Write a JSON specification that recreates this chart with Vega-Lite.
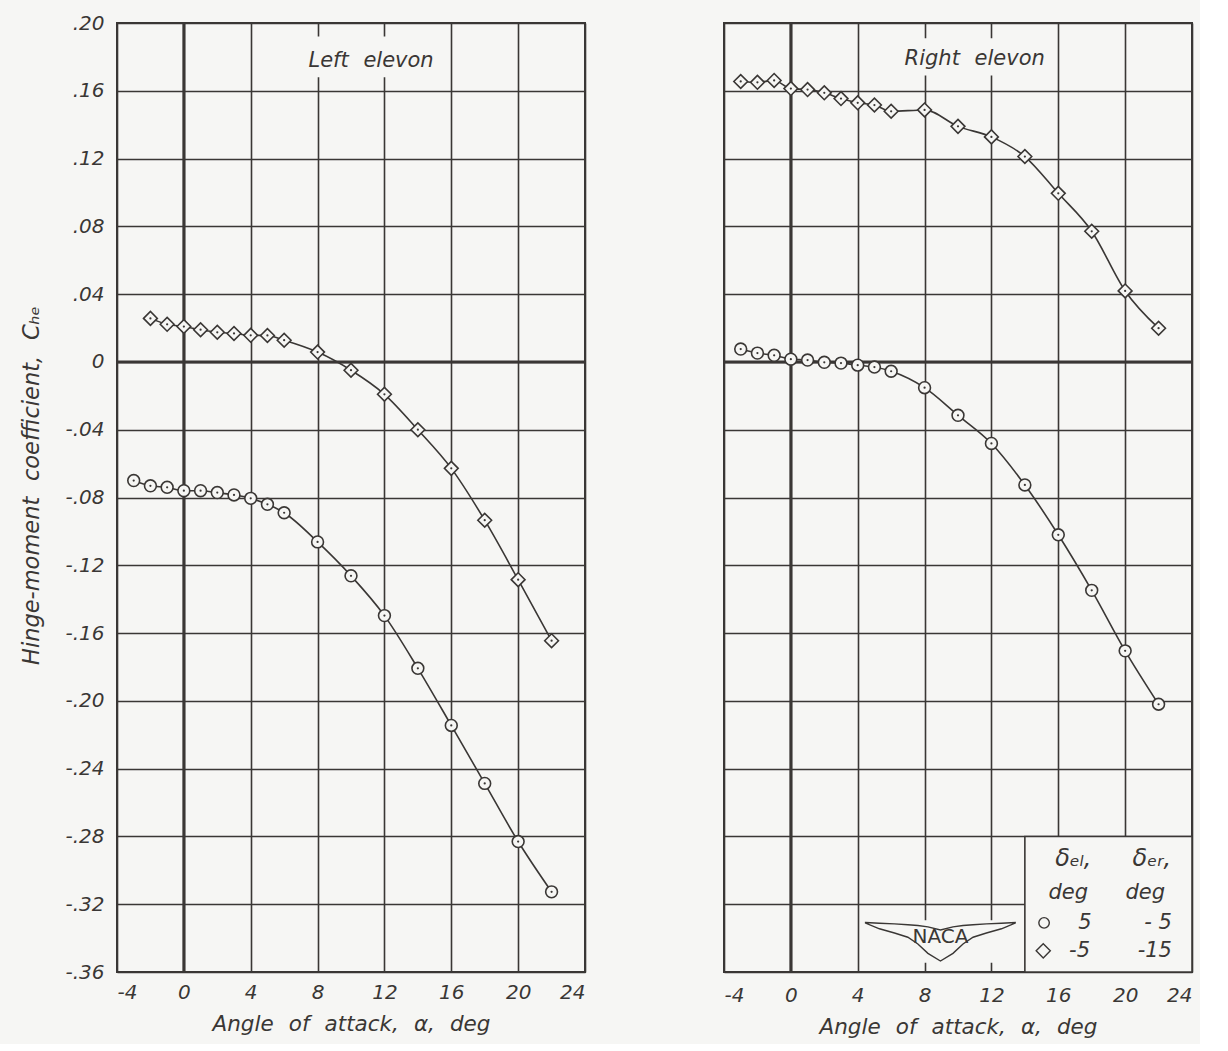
{
  "$schema": "https://vega.github.io/schema/vega-lite/v6.json",
  "background": "#f6f6f4",
  "padding": {"left": 19, "top": 12, "right": 5, "bottom": 5},
  "spacing": 139,
  "bounds": "flush",
  "config": {
    "view": {"stroke": "#3a3735", "strokeWidth": 2},
    "axis": {
      "grid": true, "gridColor": "#3a3735", "gridWidth": 1.6, "gridOpacity": 1,
      "domain": false, "ticks": false,
      "labelFont": "DejaVu Sans", "labelFontStyle": "italic", "labelFontSize": 20, "labelColor": "#3a3735",
      "titleFont": "DejaVu Sans", "titleFontStyle": "italic", "titleFontWeight": "normal", "titleFontSize": 21.5, "titleColor": "#3a3735"
    },
    "text": {"font": "DejaVu Sans", "fontStyle": "italic", "fill": "#3a3735", "fontWeight": "normal"}
  },
  "datasets": {
    "one": [{"k": 1}],
    "left": [
      {"alpha": -3, "che": -0.0700, "series": "A"},
      {"alpha": -2, "che": -0.0731, "series": "A"},
      {"alpha": -1, "che": -0.0740, "series": "A"},
      {"alpha": 0, "che": -0.0760, "series": "A"},
      {"alpha": 1, "che": -0.0760, "series": "A"},
      {"alpha": 2, "che": -0.0771, "series": "A"},
      {"alpha": 3, "che": -0.0785, "series": "A"},
      {"alpha": 4, "che": -0.0805, "series": "A"},
      {"alpha": 5, "che": -0.0840, "series": "A"},
      {"alpha": 6, "che": -0.0890, "series": "A"},
      {"alpha": 8, "che": -0.1062, "series": "A"},
      {"alpha": 10, "che": -0.1262, "series": "A"},
      {"alpha": 12, "che": -0.1497, "series": "A"},
      {"alpha": 14, "che": -0.1808, "series": "A"},
      {"alpha": 16, "che": -0.2145, "series": "A"},
      {"alpha": 18, "che": -0.2487, "series": "A"},
      {"alpha": 20, "che": -0.2830, "series": "A"},
      {"alpha": 22, "che": -0.3127, "series": "A"},
      {"alpha": -2, "che": 0.0257, "series": "B"},
      {"alpha": -1, "che": 0.0222, "series": "B"},
      {"alpha": 0, "che": 0.0209, "series": "B"},
      {"alpha": 1, "che": 0.0190, "series": "B"},
      {"alpha": 2, "che": 0.0175, "series": "B"},
      {"alpha": 3, "che": 0.0168, "series": "B"},
      {"alpha": 4, "che": 0.0157, "series": "B"},
      {"alpha": 5, "che": 0.0156, "series": "B"},
      {"alpha": 6, "che": 0.0128, "series": "B"},
      {"alpha": 8, "che": 0.0058, "series": "B"},
      {"alpha": 10, "che": -0.0049, "series": "B"},
      {"alpha": 12, "che": -0.0191, "series": "B"},
      {"alpha": 14, "che": -0.0400, "series": "B"},
      {"alpha": 16, "che": -0.0628, "series": "B"},
      {"alpha": 18, "che": -0.0934, "series": "B"},
      {"alpha": 20, "che": -0.1285, "series": "B"},
      {"alpha": 22, "che": -0.1645, "series": "B"}
    ],
    "right": [
      {"alpha": -3, "che": 0.0076, "series": "A"},
      {"alpha": -2, "che": 0.0052, "series": "A"},
      {"alpha": -1, "che": 0.0039, "series": "A"},
      {"alpha": 0, "che": 0.0016, "series": "A"},
      {"alpha": 1, "che": 0.0011, "series": "A"},
      {"alpha": 2, "che": -0.0002, "series": "A"},
      {"alpha": 3, "che": -0.0007, "series": "A"},
      {"alpha": 4, "che": -0.0019, "series": "A"},
      {"alpha": 5, "che": -0.0030, "series": "A"},
      {"alpha": 6, "che": -0.0055, "series": "A"},
      {"alpha": 8, "che": -0.0152, "series": "A"},
      {"alpha": 10, "che": -0.0315, "series": "A"},
      {"alpha": 12, "che": -0.0481, "series": "A"},
      {"alpha": 14, "che": -0.0726, "series": "A"},
      {"alpha": 16, "che": -0.1020, "series": "A"},
      {"alpha": 18, "che": -0.1348, "series": "A"},
      {"alpha": 20, "che": -0.1705, "series": "A"},
      {"alpha": 22, "che": -0.2020, "series": "A"},
      {"alpha": -3, "che": 0.1655, "series": "B"},
      {"alpha": -2, "che": 0.1650, "series": "B"},
      {"alpha": -1, "che": 0.1661, "series": "B"},
      {"alpha": 0, "che": 0.1613, "series": "B"},
      {"alpha": 1, "che": 0.1607, "series": "B"},
      {"alpha": 2, "che": 0.1588, "series": "B"},
      {"alpha": 3, "che": 0.1554, "series": "B"},
      {"alpha": 4, "che": 0.1529, "series": "B"},
      {"alpha": 5, "che": 0.1516, "series": "B"},
      {"alpha": 6, "che": 0.1479, "series": "B"},
      {"alpha": 8, "che": 0.1487, "series": "B"},
      {"alpha": 10, "che": 0.1390, "series": "B"},
      {"alpha": 12, "che": 0.1328, "series": "B"},
      {"alpha": 14, "che": 0.1212, "series": "B"},
      {"alpha": 16, "che": 0.0995, "series": "B"},
      {"alpha": 18, "che": 0.0771, "series": "B"},
      {"alpha": 20, "che": 0.0419, "series": "B"},
      {"alpha": 22, "che": 0.0199, "series": "B"}
    ],
    "logo": [
      {"alpha": 4.47, "top": -0.3308, "bottom": -0.3311},
      {"alpha": 5.3, "top": -0.3312, "bottom": -0.3345},
      {"alpha": 6.2, "top": -0.3316, "bottom": -0.3370},
      {"alpha": 7.0, "top": -0.3321, "bottom": -0.3395},
      {"alpha": 7.6, "top": -0.3326, "bottom": -0.3435},
      {"alpha": 8.2, "top": -0.3334, "bottom": -0.3490},
      {"alpha": 8.95, "top": -0.3352, "bottom": -0.3535},
      {"alpha": 9.7, "top": -0.3334, "bottom": -0.3490},
      {"alpha": 10.3, "top": -0.3326, "bottom": -0.3435},
      {"alpha": 10.9, "top": -0.3321, "bottom": -0.3395},
      {"alpha": 11.7, "top": -0.3316, "bottom": -0.3370},
      {"alpha": 12.6, "top": -0.3312, "bottom": -0.3345},
      {"alpha": 13.42, "top": -0.3308, "bottom": -0.3311}
    ]
  },
  "hconcat": [
    {
      "width": 468, "height": 949,
      "layer": [
        {"data": {"name": "one"}, "mark": {"type": "rule", "color": "#3a3735", "strokeWidth": 3},
          "encoding": {"x": {"datum": 0, "type": "quantitative", "scale": {"domain": [-4, 24], "nice": false, "zero": false}}}},
        {"data": {"name": "one"}, "mark": {"type": "rule", "color": "#3a3735", "strokeWidth": 3},
          "encoding": {"y": {"datum": 0, "type": "quantitative"}}},
        {"data": {"name": "one"}, "mark": {"type": "rect", "fill": "#f6f6f4"},
          "encoding": {"x": {"datum": 6.5}, "x2": {"datum": 15.85}, "y": {"datum": 0.192}, "y2": {"datum": 0.168}}},
        {"data": {"name": "one"}, "mark": {"type": "text", "text": "Left\u2002\u2009elevon", "fontSize": 21},
          "encoding": {"x": {"datum": 11.2}, "y": {"datum": 0.1777}}},
        {"data": {"name": "left"},
          "mark": {"type": "line", "interpolate": "monotone", "color": "#3a3735", "strokeWidth": 1.6},
          "encoding": {
            "x": {"field": "alpha", "type": "quantitative",
              "scale": {"domain": [-4, 24], "nice": false, "zero": false},
              "axis": {"values": [-4,-2,0,2,4,6,8,10,12,14,16,18,20,22,24],
                "labelExpr": "datum.value % 4 == 0 ? replace(datum.label, '−', '-') : ''",
                "labelPadding": 10, "titlePadding": 11, "title": "Angle\u2002\u2009of\u2002\u2009attack,\u2002\u2009α,\u2002\u2009deg"}},
            "y": {"field": "che", "type": "quantitative",
              "scale": {"domain": [-0.36, 0.2], "nice": false, "zero": false},
              "axis": {"values": [-0.36,-0.34,-0.32,-0.3,-0.28,-0.26,-0.24,-0.22,-0.2,-0.18,-0.16,-0.14,-0.12,-0.1,-0.08,-0.06,-0.04,-0.02,0,0.02,0.04,0.06,0.08,0.1,0.12,0.14,0.16,0.18,0.2],
                "labelExpr": "abs(round(datum.value*100)) % 4 == 0 ? (abs(datum.value) < 0.001 ? '0' : replace(replace(format(datum.value, '.2f'), '0.', '.'), '−', '-')) : ''",
                "labelPadding": 13, "titlePadding": 21, "titleFontSize": 22.5, "titleY": 462,
                "title": "Hinge-moment\u2002\u2009coefficient,\u2002\u2009Cₕₑ"}},
            "detail": {"field": "series"}}},
        {"data": {"name": "left"},
          "mark": {"type": "point", "filled": false, "fill": "#f6f6f4", "fillOpacity": 1, "stroke": "#3a3735", "strokeWidth": 1.6, "opacity": 1},
          "encoding": {
            "x": {"field": "alpha", "type": "quantitative"},
            "y": {"field": "che", "type": "quantitative"},
            "shape": {"field": "series", "type": "nominal", "scale": {"domain": ["A", "B"], "range": ["circle", "diamond"]}, "legend": null},
            "size": {"field": "series", "type": "nominal", "scale": {"domain": ["A", "B"], "range": [140, 190]}, "legend": null}}},
        {"data": {"name": "left"},
          "mark": {"type": "point", "filled": true, "color": "#3a3735", "size": 5, "opacity": 1},
          "encoding": {"x": {"field": "alpha", "type": "quantitative"}, "y": {"field": "che", "type": "quantitative"}}}
      ]
    },
    {
      "width": 468, "height": 949,
      "layer": [
        {"data": {"name": "one"}, "mark": {"type": "rule", "color": "#3a3735", "strokeWidth": 3},
          "encoding": {"x": {"datum": 0, "type": "quantitative", "scale": {"domain": [-4, 24], "nice": false, "zero": false}}}},
        {"data": {"name": "one"}, "mark": {"type": "rule", "color": "#3a3735", "strokeWidth": 3},
          "encoding": {"y": {"datum": 0, "type": "quantitative"}}},
        {"data": {"name": "one"}, "mark": {"type": "rect", "fill": "#f6f6f4"},
          "encoding": {"x": {"datum": 6.2}, "x2": {"datum": 15.8}, "y": {"datum": 0.191}, "y2": {"datum": 0.169}}},
        {"data": {"name": "one"}, "mark": {"type": "text", "text": "Right\u2002\u2009elevon", "fontSize": 21},
          "encoding": {"x": {"datum": 11.0}, "y": {"datum": 0.179}}},
        {"data": {"name": "one"}, "mark": {"type": "rect", "fill": "#f6f6f4"},
          "encoding": {"x": {"datum": 4.5}, "x2": {"datum": 13.4}, "y": {"datum": -0.3295}, "y2": {"datum": -0.3545}}},
        {"data": {"name": "logo"},
          "mark": {"type": "area", "fill": "#f6f6f4", "stroke": "#3a3735", "strokeWidth": 1.4},
          "encoding": {"x": {"field": "alpha", "type": "quantitative"}, "y": {"field": "top", "type": "quantitative"}, "y2": {"field": "bottom"}}},
        {"data": {"name": "one"}, "mark": {"type": "text", "text": "NACA", "fontSize": 20, "fontStyle": "normal"},
          "encoding": {"x": {"datum": 8.95}, "y": {"datum": -0.3395}}},
        {"data": {"name": "one"}, "mark": {"type": "rect", "fill": "#f6f6f4", "stroke": "#3a3735", "strokeWidth": 1.6},
          "encoding": {"x": {"datum": 14}, "x2": {"datum": 24}, "y": {"datum": -0.28}, "y2": {"datum": -0.36}}},
        {"data": {"name": "one"}, "mark": {"type": "text", "text": "δₑₗ,", "fontSize": 24},
          "encoding": {"x": {"datum": 16.9}, "y": {"datum": -0.2935}}},
        {"data": {"name": "one"}, "mark": {"type": "text", "text": "δₑᵣ,", "fontSize": 24},
          "encoding": {"x": {"datum": 21.6}, "y": {"datum": -0.2935}}},
        {"data": {"name": "one"}, "mark": {"type": "text", "text": "deg", "fontSize": 21},
          "encoding": {"x": {"datum": 16.6}, "y": {"datum": -0.3135}}},
        {"data": {"name": "one"}, "mark": {"type": "text", "text": "deg", "fontSize": 21},
          "encoding": {"x": {"datum": 21.2}, "y": {"datum": -0.3135}}},
        {"data": {"name": "one"}, "mark": {"type": "point", "shape": "circle", "size": 110, "filled": false, "stroke": "#3a3735", "strokeWidth": 1.4, "opacity": 1},
          "encoding": {"x": {"datum": 15.15}, "y": {"datum": -0.331}}},
        {"data": {"name": "one"}, "mark": {"type": "point", "shape": "diamond", "size": 200, "filled": false, "stroke": "#3a3735", "strokeWidth": 1.4, "opacity": 1},
          "encoding": {"x": {"datum": 15.1}, "y": {"datum": -0.3475}}},
        {"data": {"name": "one"}, "mark": {"type": "text", "text": "5", "fontSize": 21, "align": "right"},
          "encoding": {"x": {"datum": 18.0}, "y": {"datum": -0.331}}},
        {"data": {"name": "one"}, "mark": {"type": "text", "text": "-5", "fontSize": 21, "align": "right"},
          "encoding": {"x": {"datum": 17.9}, "y": {"datum": -0.3475}}},
        {"data": {"name": "one"}, "mark": {"type": "text", "text": "- 5", "fontSize": 21, "align": "right"},
          "encoding": {"x": {"datum": 22.8}, "y": {"datum": -0.331}}},
        {"data": {"name": "one"}, "mark": {"type": "text", "text": "-15", "fontSize": 21, "align": "right"},
          "encoding": {"x": {"datum": 22.8}, "y": {"datum": -0.3475}}},
        {"data": {"name": "right"},
          "mark": {"type": "line", "interpolate": "monotone", "color": "#3a3735", "strokeWidth": 1.6},
          "encoding": {
            "x": {"field": "alpha", "type": "quantitative",
              "scale": {"domain": [-4, 24], "nice": false, "zero": false},
              "axis": {"values": [-4,-2,0,2,4,6,8,10,12,14,16,18,20,22,24],
                "labelExpr": "datum.value % 4 == 0 ? replace(datum.label, '−', '-') : ''",
                "labelPadding": 13, "titlePadding": 11, "title": "Angle\u2002\u2009of\u2002\u2009attack,\u2002\u2009α,\u2002\u2009deg"}},
            "y": {"field": "che", "type": "quantitative",
              "scale": {"domain": [-0.36, 0.2], "nice": false, "zero": false},
              "axis": {"values": [-0.36,-0.34,-0.32,-0.3,-0.28,-0.26,-0.24,-0.22,-0.2,-0.18,-0.16,-0.14,-0.12,-0.1,-0.08,-0.06,-0.04,-0.02,0,0.02,0.04,0.06,0.08,0.1,0.12,0.14,0.16,0.18,0.2],
                "labels": false, "title": null}},
            "detail": {"field": "series"}}},
        {"data": {"name": "right"},
          "mark": {"type": "point", "filled": false, "fill": "#f6f6f4", "fillOpacity": 1, "stroke": "#3a3735", "strokeWidth": 1.6, "opacity": 1},
          "encoding": {
            "x": {"field": "alpha", "type": "quantitative"},
            "y": {"field": "che", "type": "quantitative"},
            "shape": {"field": "series", "type": "nominal", "scale": {"domain": ["A", "B"], "range": ["circle", "diamond"]}, "legend": null},
            "size": {"field": "series", "type": "nominal", "scale": {"domain": ["A", "B"], "range": [140, 190]}, "legend": null}}},
        {"data": {"name": "right"},
          "mark": {"type": "point", "filled": true, "color": "#3a3735", "size": 5, "opacity": 1},
          "encoding": {"x": {"field": "alpha", "type": "quantitative"}, "y": {"field": "che", "type": "quantitative"}}}
      ]
    }
  ]
}
